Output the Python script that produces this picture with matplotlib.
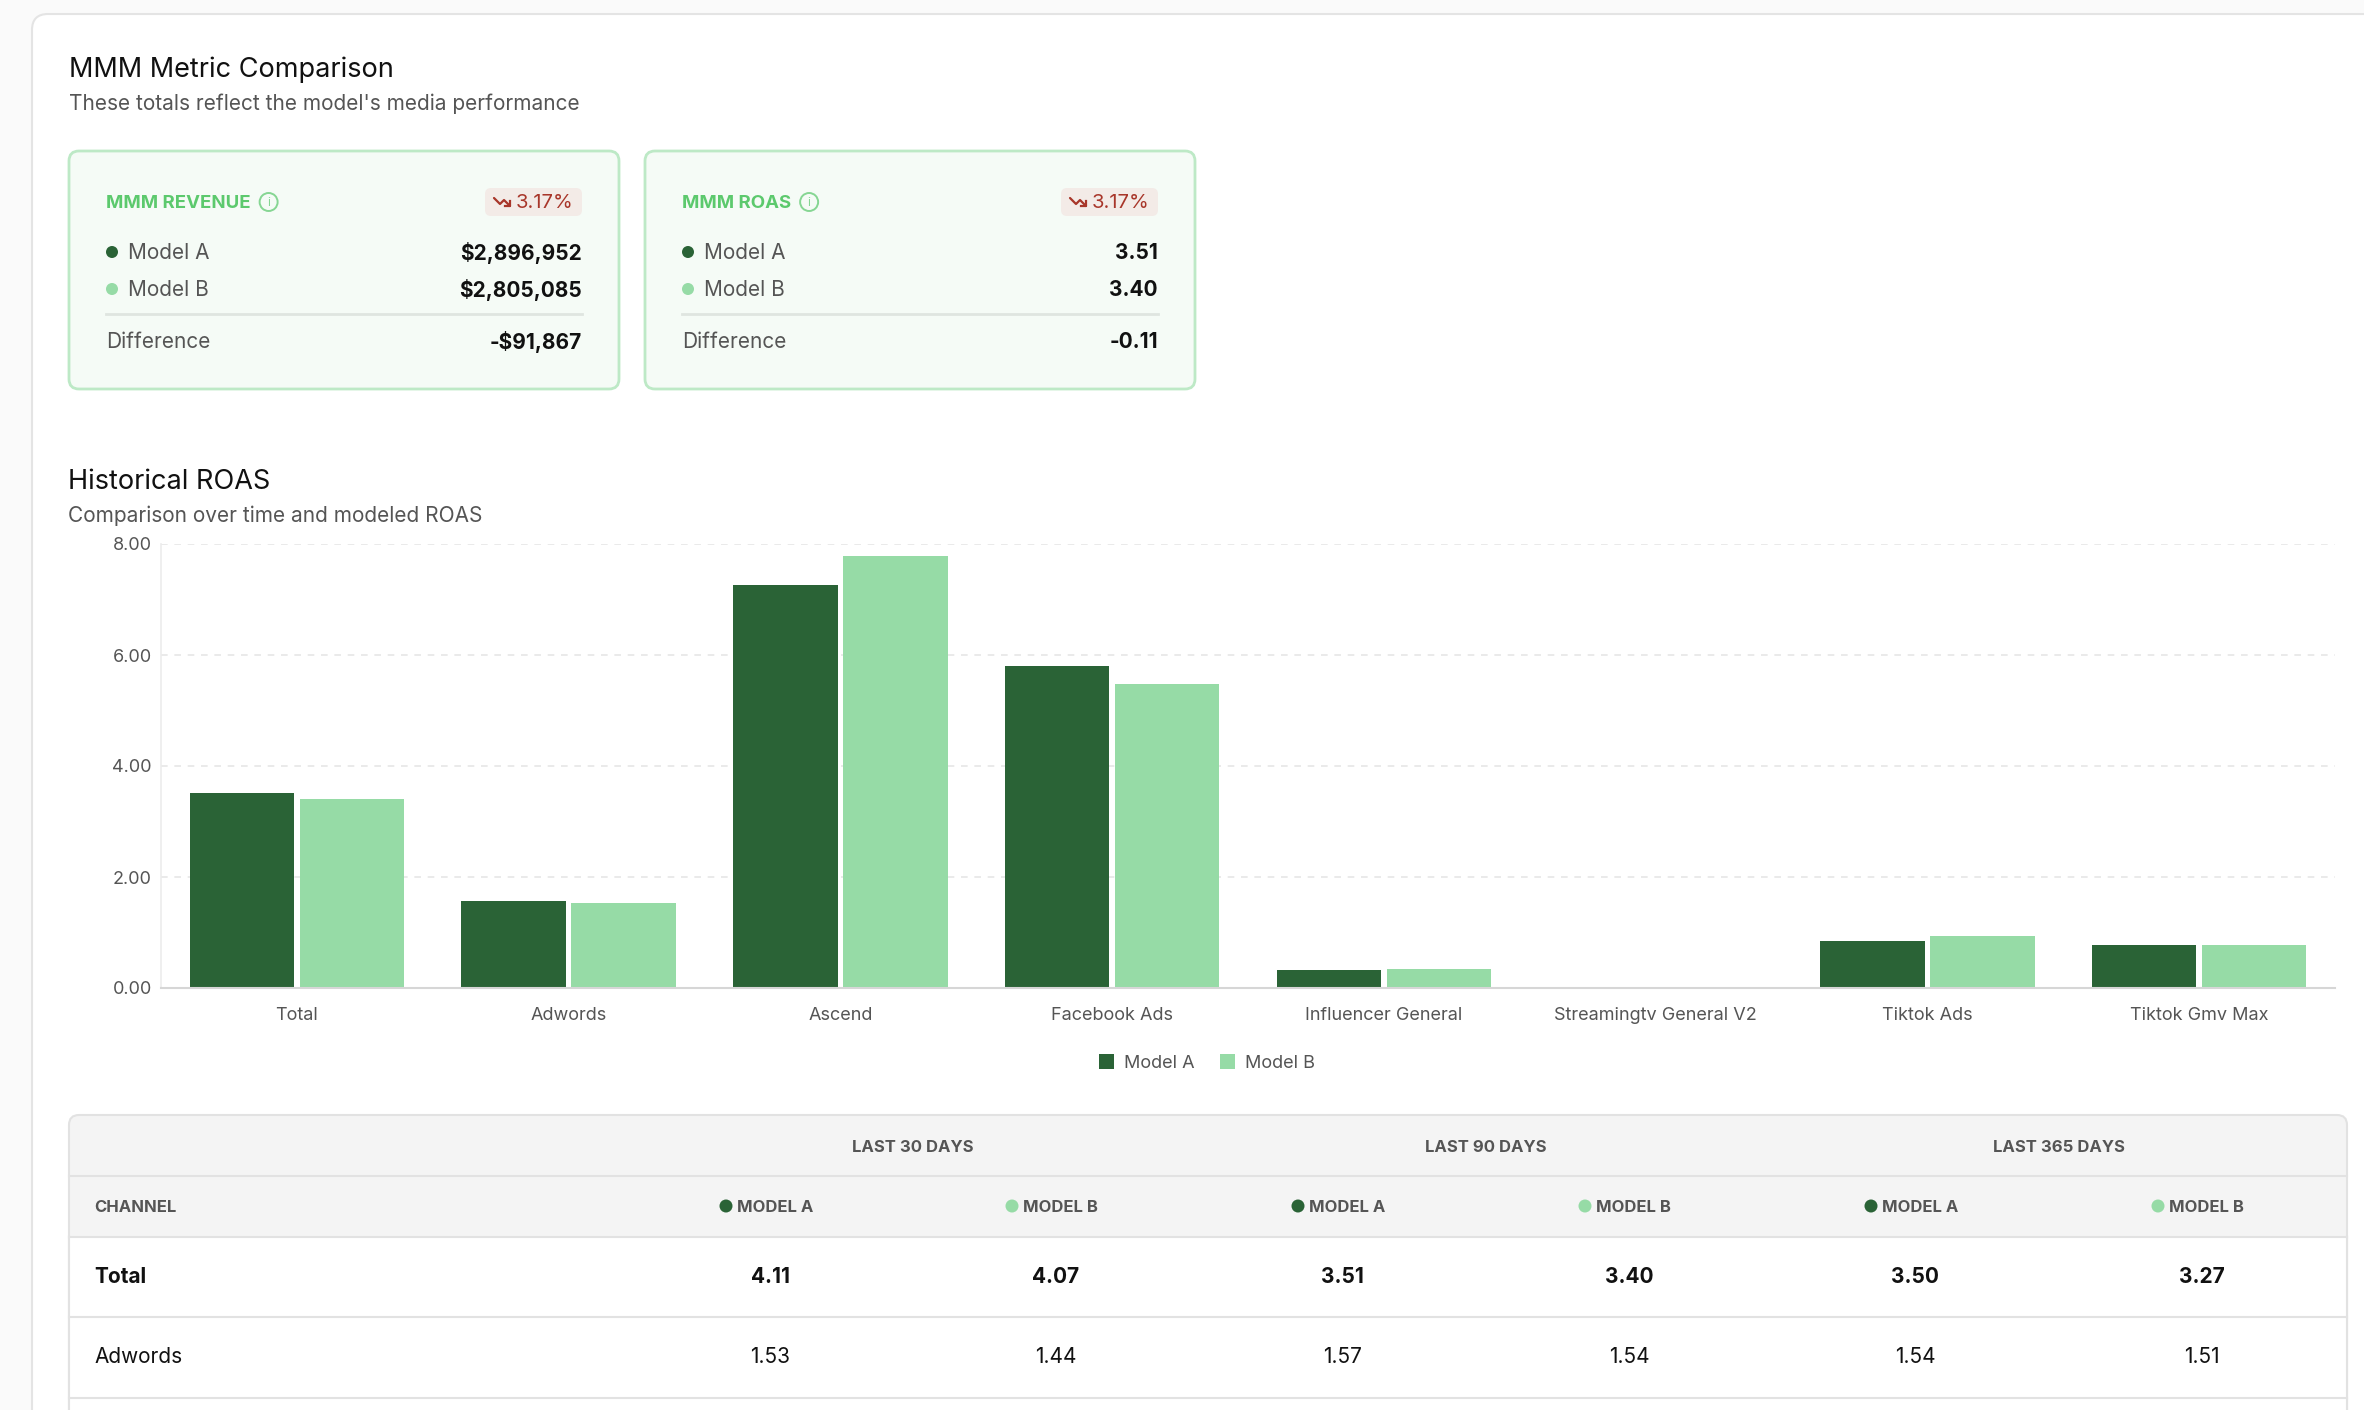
import matplotlib
matplotlib.use("Agg")
import matplotlib.pyplot as plt
from matplotlib.patches import FancyBboxPatch, Circle, Patch

plt.rcParams['font.family'] = ['Inter', 'DejaVu Sans']

# --- dados ---
channels = ['Total', 'Adwords', 'Ascend', 'Facebook Ads', 'Influencer General',
            'Streamingtv General V2', 'Tiktok Ads', 'Tiktok Gmv Max']
roas_a = [3.51, 1.57, 7.27, 5.80, 0.33, 0.0, 0.85, 0.77]
roas_b = [3.40, 1.54, 7.79, 5.47, 0.35, 0.0, 0.93, 0.77]
y_ticks = [0, 2, 4, 6, 8]

card_titles = ['MMM REVENUE', 'MMM ROAS']
card_changes = ['3.17%', '3.17%']
card_a = ['$2,896,952', '3.51']
card_b = ['$2,805,085', '3.40']
card_diff = ['-$91,867', '-0.11']

periods = ['LAST 30 DAYS', 'LAST 90 DAYS', 'LAST 365 DAYS']
table_channels = ['Total', 'Adwords']
table_vals = [[4.11, 4.07, 3.51, 3.40, 3.50, 3.27],
              [1.53, 1.44, 1.57, 1.54, 1.54, 1.51]]

DARK = '#2a6336'
LIGHT = '#96dba6'
W, H = 2364, 1410

fig = plt.figure(figsize=(W / 100, H / 100), dpi=100, facecolor='#fafafa')
renderer = fig.canvas.get_renderer()

# camada de interface em coordenadas de pixel
ui = fig.add_axes([0, 0, 1, 1], zorder=0)
ui.set_xlim(0, W)
ui.set_ylim(H, 0)
ui.axis('off')


def rbox(x0, y0, x1, y1, r, fc, ec, lw=1.5):
    p = FancyBboxPatch((x0, y0), x1 - x0, y1 - y0,
                       boxstyle=f"round,pad=0,rounding_size={r}",
                       fc=fc, ec=ec, lw=lw, mutation_aspect=1)
    ui.add_patch(p)


# cartao externo
rbox(32, 14, W + 60, H + 60, 16, 'white', '#e4e4e4', 1.5)

ui.text(69, 70, 'MMM Metric Comparison', fontsize=19.5, color='#111111', va='center')
ui.text(69, 104, "These totals reflect the model's media performance", fontsize=15,
        color='#555555', va='center')

# cartoes de metricas
for k in range(2):
    dx = k * 576
    rbox(69 + dx, 151, 619 + dx, 389, 10, '#f5fbf6', '#bde9c6', 2)
    t = ui.text(106 + dx, 203, card_titles[k], fontsize=13.4, fontweight='bold',
                color='#5cc96d', va='center')
    bb = t.get_window_extent(renderer)
    cx = bb.x1 + 18
    ui.add_patch(Circle((cx, 202), 9, fc='none', ec='#86d693', lw=1.4))
    ui.text(cx, 203, 'i', fontsize=8.5, color='#86d693', ha='center', va='center')
    # badge
    rbox(485 + dx, 188, 582 + dx, 216, 6, '#f3ebe7', 'none', 0)
    ui.plot([494 + dx, 500 + dx, 504 + dx, 510 + dx], [198, 204, 200, 206],
            color='#a8362a', lw=1.6, solid_capstyle='round')
    ui.plot([505 + dx, 510 + dx, 510 + dx], [206, 206, 201], color='#a8362a', lw=1.6)
    ui.text(573 + dx, 203, card_changes[k], fontsize=14.5, color='#a8362a',
            ha='right', va='center')
    # linhas
    for yy, col, lab, val in [(253, DARK, 'Model A', card_a[k]),
                              (290, LIGHT, 'Model B', card_b[k])]:
        ui.add_patch(Circle((112 + dx, yy - 1), 6, fc=col, ec='none'))
        ui.text(128 + dx, yy, lab, fontsize=15, color='#555555', va='center')
        ui.text(582 + dx, yy, val, fontsize=15, fontweight='bold',
                color='#111111', ha='right', va='center')
    ui.plot([106 + dx, 582 + dx], [314, 314], color='#dfe5e0', lw=2)
    ui.text(106 + dx, 342, 'Difference', fontsize=15, color='#555555', va='center')
    ui.text(582 + dx, 342, card_diff[k], fontsize=15, fontweight='bold',
            color='#111111', ha='right', va='center')

ui.text(68, 482, 'Historical ROAS', fontsize=19.5, color='#111111', va='center')
ui.text(68, 516, 'Comparison over time and modeled ROAS', fontsize=15,
        color='#555555', va='center')

# --- grafico de barras ---
ax_l, ax_r, ax_t, ax_b = 161, 2335, 544, 988
ax = fig.add_axes([ax_l / W, 1 - ax_b / H, (ax_r - ax_l) / W, (ax_b - ax_t) / H],
                  zorder=2)
ax.set_facecolor('none')
x = list(range(len(channels)))
bw = 0.385
off = 0.2025
ax.bar([i - off for i in x], roas_a, width=bw, color=DARK, label='Model A')
ax.bar([i + off for i in x], roas_b, width=bw, color=LIGHT, label='Model B')
ax.set_xlim(-0.5, len(channels) - 0.5)
ax.set_ylim(0, 8)
ax.set_yticks(y_ticks)
ax.set_yticklabels([f'{v:.2f}' for v in y_ticks])
ax.set_xticks(x)
ax.set_xticklabels(channels)
ax.tick_params(axis='y', length=0, pad=6.5, labelsize=13, labelcolor='#555555')
ax.tick_params(axis='x', length=0, pad=13.5, labelsize=13, labelcolor='#555555')
for s in ['top', 'right']:
    ax.spines[s].set_visible(False)
ax.spines['left'].set_color('#ececec')
ax.spines['bottom'].set_color('#d6d6d6')
ax.spines['left'].set_linewidth(1.2)
ax.spines['bottom'].set_linewidth(1.5)
ax.yaxis.grid(True, linestyle=(0, (4, 4)), color='#e6e6e6', lw=1.2)
ax.set_axisbelow(True)

ax.legend(handles=[Patch(fc=DARK, ec='none', label='Model A'),
                   Patch(fc=LIGHT, ec='none', label='Model B')],
          loc='center', bbox_to_anchor=(1207 / W, 1 - 1063 / H),
          bbox_transform=fig.transFigure, ncol=2, frameon=False, fontsize=13,
          handlelength=0.85, handleheight=0.85, handletextpad=0.55,
          columnspacing=1.4, borderpad=0, labelcolor='#555555')

# --- tabela ---
t_l, t_r, t_t = 69, 2347, 1115
rbox(t_l, t_t, t_r, H + 40, 10, '#f4f4f4', '#e2e2e2', 1.5)
ui.fill_between([t_l + 1, t_r - 1], 1237, H + 30, color='white', zorder=2)
ui.plot([t_l, t_l], [1237, H], color='#e2e2e2', lw=1.5, zorder=3)
ui.plot([t_r, t_r], [1237, H], color='#e2e2e2', lw=1.5, zorder=3)
for yy in [1176, 1237, 1317, 1398]:
    ui.plot([t_l, t_r], [yy, yy], color='#e2e2e2', lw=1.5, zorder=3)

col_x = [770, 1056, 1342, 1629, 1915, 2202]
for p, name in enumerate(periods):
    ui.text((col_x[2 * p] + col_x[2 * p + 1]) / 2, 1147, name, fontsize=12,
            fontweight='bold', color='#555555', ha='center', va='center')
ui.text(94, 1207, 'CHANNEL', fontsize=12, fontweight='bold', color='#555555',
        va='center')
for j, cx in enumerate(col_x):
    col = DARK if j % 2 == 0 else LIGHT
    lab = 'MODEL A' if j % 2 == 0 else 'MODEL B'
    ui.add_patch(Circle((cx - 44, 1206), 6.5, fc=col, ec='none', zorder=4))
    ui.text(cx - 33, 1207, lab, fontsize=12, fontweight='bold', color='#555555',
            va='center', zorder=4)

row_y = [1277, 1357]
for r, name in enumerate(table_channels):
    wt = 'bold' if r == 0 else 'normal'
    ui.text(94, row_y[r], name, fontsize=15, fontweight=wt, color='#111111',
            va='center', zorder=4)
    for j, cx in enumerate(col_x):
        ui.text(cx, row_y[r], f'{table_vals[r][j]:.2f}', fontsize=15, fontweight=wt,
                color='#111111', ha='center', va='center', zorder=4)

fig.savefig('out.png', dpi=100, facecolor=fig.get_facecolor())
